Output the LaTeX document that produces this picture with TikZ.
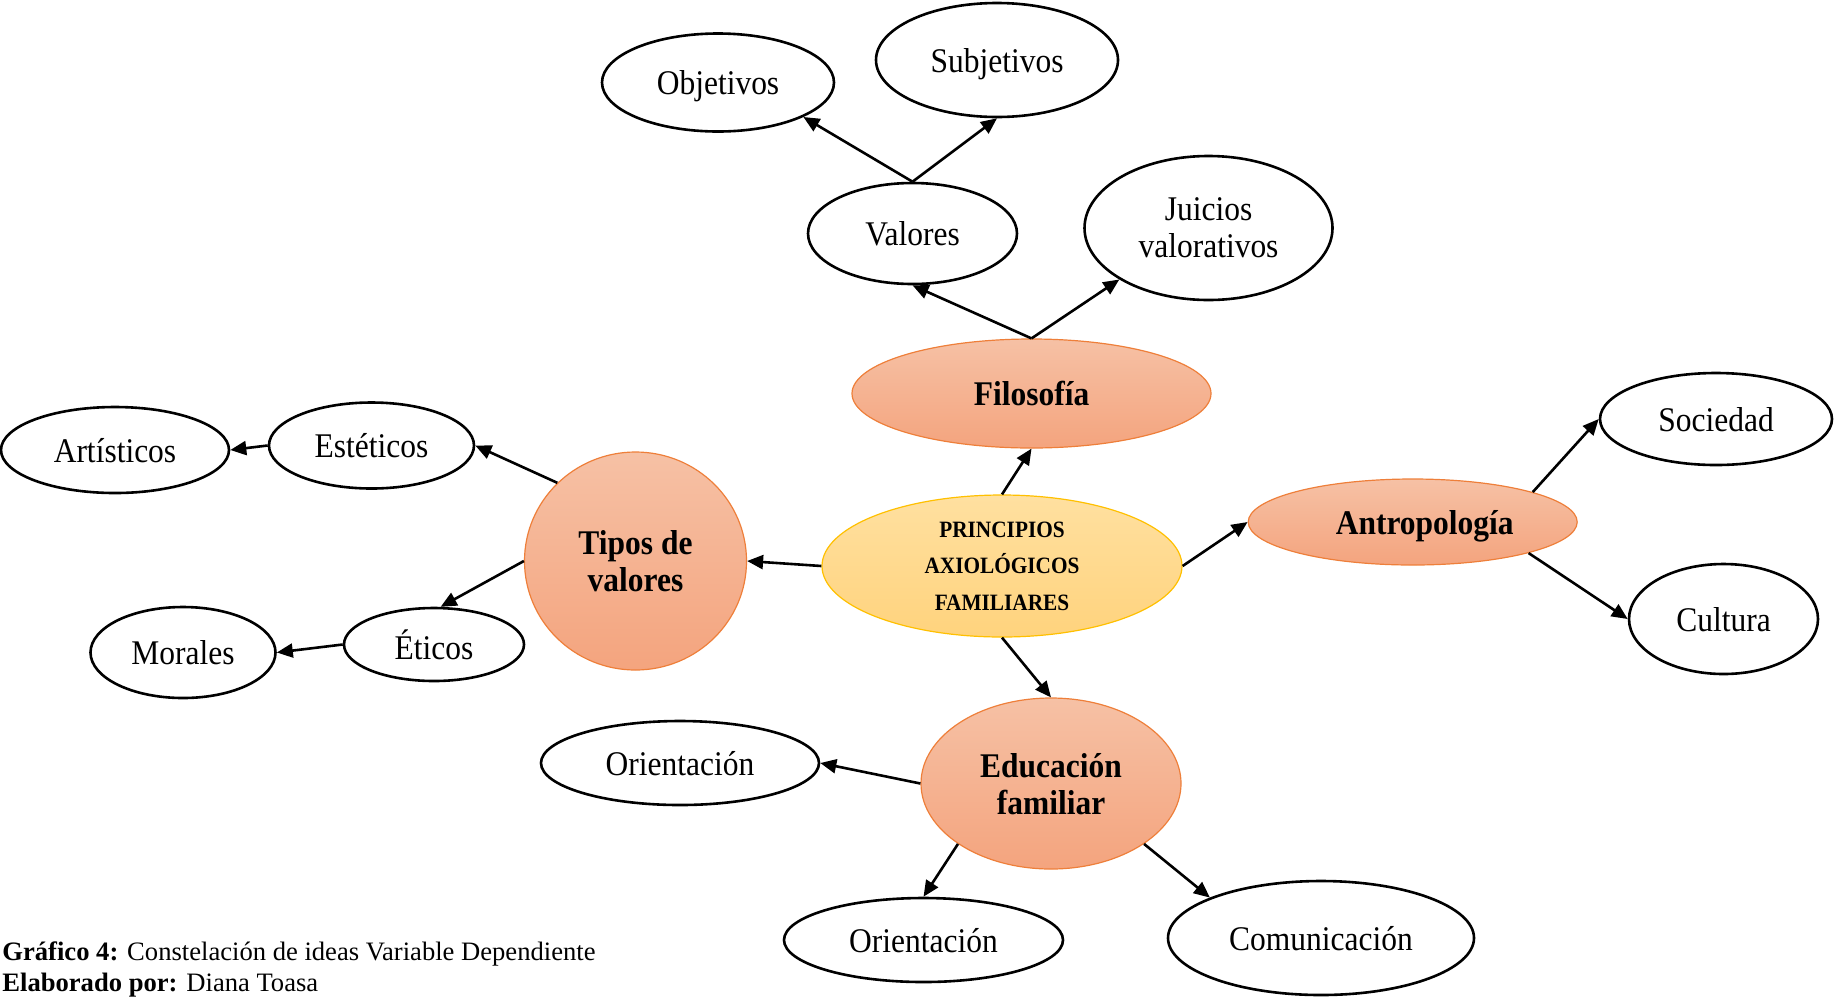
\documentclass[tikz,border=0pt]{standalone}
\usepackage{fontspec}
\setmainfont{Liberation Serif}
\newfontfamily\nodefont{Liberation Serif}[FakeStretch=0.91]
\usetikzlibrary{arrows.meta,shapes.geometric}
\definecolor{orT}{HTML}{F6C1A5}
\definecolor{orB}{HTML}{F4A47E}
\definecolor{orD}{HTML}{EE7F3A}
\definecolor{yT}{HTML}{FFE0A0}
\definecolor{yB}{HTML}{FFD37D}
\definecolor{yD}{HTML}{FFC000}
\begin{document}
\begin{tikzpicture}[x=0.5pt,y=-0.5pt,
  leaf/.style={ellipse, draw=black, line width=1.3pt, fill=white, inner sep=0pt,
    text depth=0pt, align=center, font=\nodefont\fontsize{17.3}{18.5}\selectfont},
  hub/.style={ellipse, draw=orD, line width=0.6pt, top color=orT, bottom color=orB,
    inner sep=0pt, text depth=0pt, align=center, font=\nodefont\fontsize{17.3}{18.5}\selectfont\bfseries},
  core/.style={ellipse, draw=yD, line width=0.6pt, top color=yT, bottom color=yB,
    inner sep=0pt, align=center, font=\nodefont\fontsize{11.7}{18.3}\selectfont\bfseries},
  arr/.style={-{Triangle[length=8pt,width=7pt]}, line width=1.3pt, draw=black},
  captxt/.style={anchor=base west, inner sep=0pt, font=\fontsize{13.3}{15}\selectfont}]
\useasboundingbox (0,0) rectangle (1834,997);

% nodes
\node[core, minimum width=180pt, minimum height=71pt] (cen) at (1002,566) {PRINCIPIOS\\AXIOLÓGICOS\\FAMILIARES};
\node[hub, minimum width=179.5pt, minimum height=54.5pt] (filo) at (1031.5,393.5) {Filosofía};
\node[hub, minimum width=111pt, minimum height=109pt] (tipos) at (635.5,561) {Tipos de\\valores};
\node[hub, minimum width=164.5pt, minimum height=43pt] (ant) at (1412.7,522) {\hspace*{12pt}Antropología};
\node[hub, minimum width=130pt, minimum height=85.5pt] (edu) at (1051,783.5) {Educación\\familiar};

\node[leaf, minimum width=116pt, minimum height=49pt] (obj) at (718,82.5) {Objetivos};
\node[leaf, minimum width=121pt, minimum height=57pt] (sub) at (997,60) {Subjetivos};
\node[leaf, minimum width=104.5pt, minimum height=50.5pt] (val) at (912.5,233.5) {Valores};
\node[leaf, minimum width=124pt, minimum height=72pt] (jui) at (1208.5,228) {Juicios\\valorativos};
\node[leaf, minimum width=102.5pt, minimum height=43pt] (est) at (371.5,445.5) {Estéticos};
\node[leaf, minimum width=114pt, minimum height=43pt] (art) at (115,450) {Artísticos};
\node[leaf, minimum width=90pt, minimum height=36.5pt] (etic) at (434,644.5) {Éticos};
\node[leaf, minimum width=92.5pt, minimum height=45.5pt] (mor) at (183,652.5) {Morales};
\node[leaf, minimum width=116pt, minimum height=46pt] (soc) at (1716,419) {Sociedad};
\node[leaf, minimum width=94.5pt, minimum height=55pt] (cul) at (1723.5,619) {Cultura};
\node[leaf, minimum width=139pt, minimum height=42pt] (ori1) at (680,763) {Orientación};
\node[leaf, minimum width=139.5pt, minimum height=42pt] (ori2) at (923.5,940) {Orientación};
\node[leaf, minimum width=153pt, minimum height=57pt] (com) at (1321,938) {Comunicación};

% connectors
\draw[arr] (cen.north) -- (filo.south);
\draw[arr] (filo.north) -- (val.south);
\draw[arr] (filo.north) -- (jui.210);
\draw[arr] (val.north) -- (obj.-22);
\draw[arr] (val.north) -- (sub.south);
\draw[arr] (cen.west) -- (tipos.east);
\draw[arr] (tipos.135) -- (est.east);
\draw[arr] (tipos.west) -- (etic.80);
\draw[arr] (est.west) -- (art.east);
\draw[arr] (etic.west) -- (mor.east);
\draw[arr] (cen.east) -- (ant.west);
\draw[arr] (ant.14.5) -- (soc.west);
\draw[arr] (ant.-15) -- (cul.west);
\draw[arr] (cen.south) -- (edu.north);
\draw[arr] (edu.west) -- (ori1.east);
\draw[arr] (edu.213) -- (ori2.north);
\draw[arr] (edu.-33) -- (com.160);

% caption
\node[captxt] (cap1) at (2,960) {\textbf{Gráfico 4:} Constelación de ideas Variable Dependiente};
\node[captxt] (cap2) at (2,991) {\textbf{Elaborado por:} Diana Toasa};
\end{tikzpicture}
\end{document}
